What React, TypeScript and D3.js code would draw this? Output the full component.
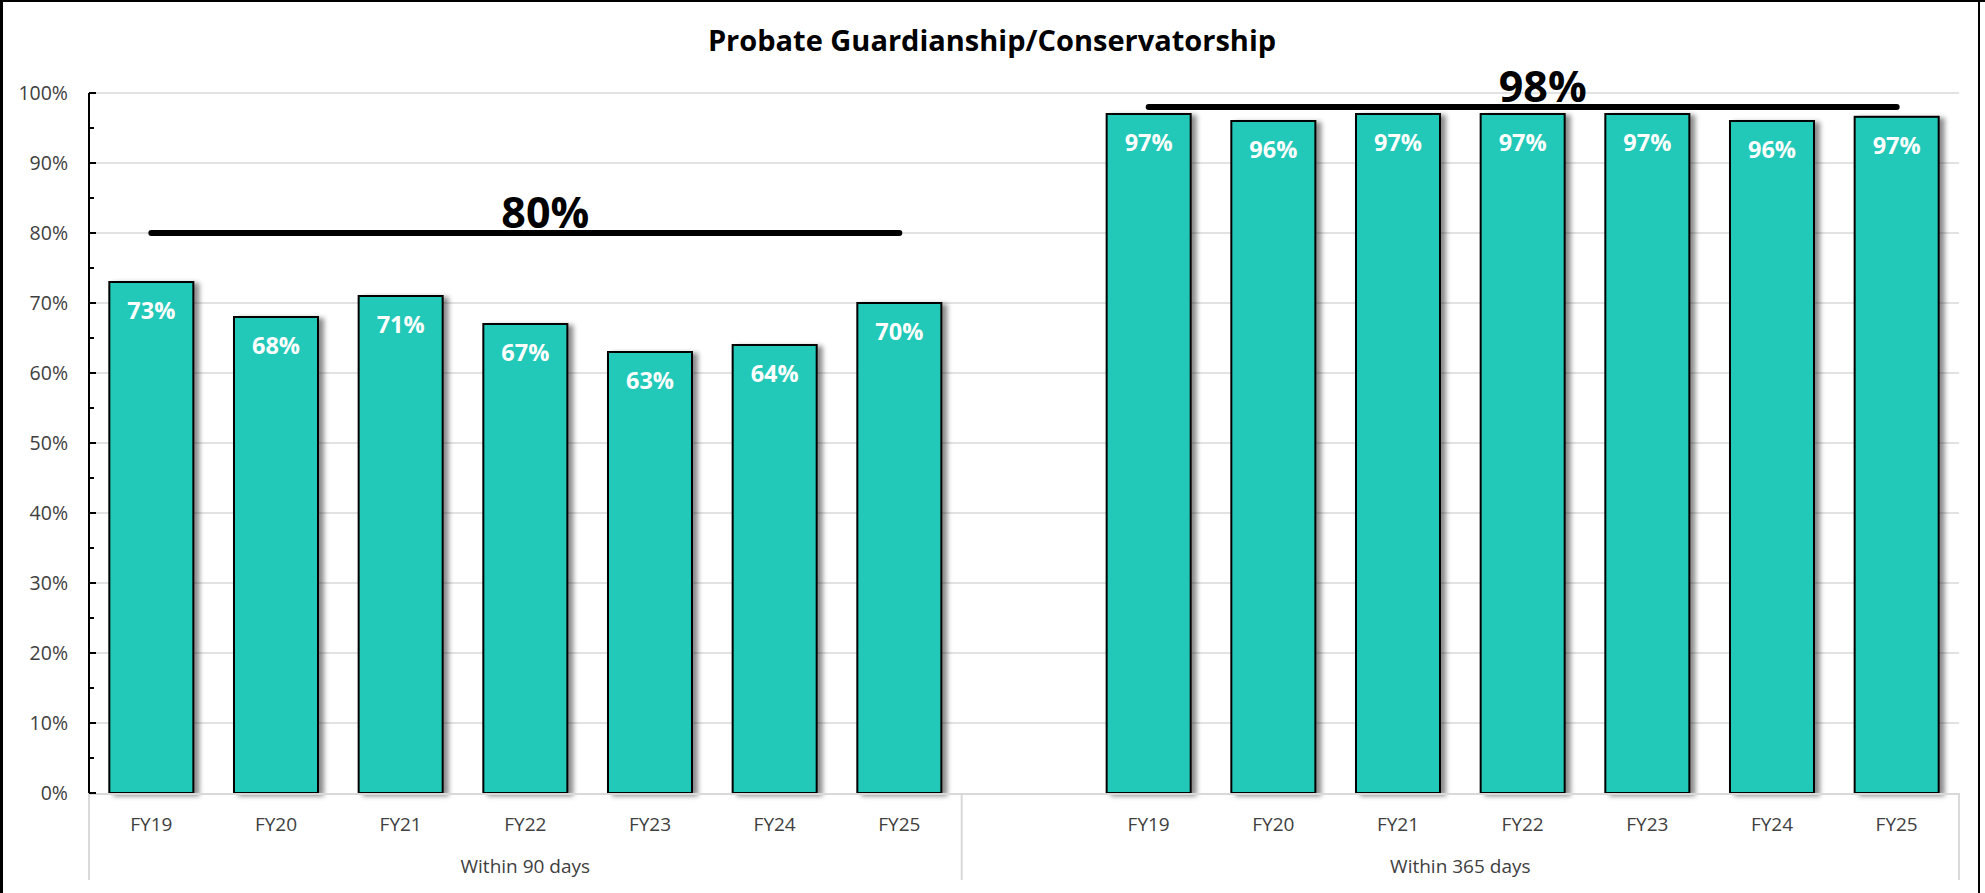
import React from "react";
import * as d3 from "d3";

const categories = ["FY19", "FY20", "FY21", "FY22", "FY23", "FY24", "FY25"];
const groups = ["Within 90 days", "Within 365 days"];
const within90 = [0.73, 0.68, 0.71, 0.67, 0.63, 0.64, 0.70];
const within365 = [0.97, 0.96, 0.97, 0.97, 0.97, 0.96, 0.966];
const targets = [0.8, 0.98];
const yTicks = [0, 0.1, 0.2, 0.3, 0.4, 0.5, 0.6, 0.7, 0.8, 0.9, 1.0];
const title = "Probate Guardianship/Conservatorship";

const W = 1985;
const H = 893;
const left = 89;
const right = 1959;
const top = 93;
const bottom = 793;
const FONT = "'Open Sans', 'Noto Sans', sans-serif";
const BAR = "#22C8B8";
const TXT = "#404040";

export default function App() {
  const series = [within90, within365];
  const slotKeys: string[] = [];
  categories.forEach((c) => slotKeys.push(`0-${c}`));
  slotKeys.push("1-gap");
  categories.forEach((c) => slotKeys.push(`1-${c}`));

  const x = d3
    .scaleBand<string>()
    .domain(slotKeys)
    .range([left, right])
    .paddingInner(0.326)
    .paddingOuter(0.163);
  const y = d3.scaleLinear().domain([0, 1]).range([bottom, top]);
  const step = x.step();
  const bw = x.bandwidth();
  const center = (k: string) => (x(k) as number) + bw / 2;

  const minorTicks = d3.range(0.05, 1, 0.1);
  const line = d3
    .line<[number, number]>()
    .x((d) => d[0])
    .y((d) => d[1]);

  const groupStart = [left, (x("1-gap") as number) - (step - bw) / 2];
  const groupEnd = [groupStart[1], right];

  return (
    <svg
      width={W}
      height={H}
      style={{ position: "absolute", left: 0, top: 0, background: "#fff" }}
    >
      <defs>
        <filter id="sh" x="-20%" y="-10%" width="150%" height="130%">
          <feDropShadow dx="5" dy="2" stdDeviation="2.5" floodColor="#000" floodOpacity="0.45" />
        </filter>
      </defs>
      <rect x={0} y={0} width={W} height={H} fill="#fff" />
      <line x1={1.5} y1={0} x2={1.5} y2={H} stroke="#000" strokeWidth={3} />
      <line x1={0} y1={1} x2={W} y2={1} stroke="#000" strokeWidth={2} />
      <line x1={1979} y1={0} x2={1979} y2={H} stroke="#000" strokeWidth={2} />

      <text x={992} y={51} textAnchor="middle" fontFamily={FONT} fontWeight={700} fontSize={29} fill="#000">
        {title}
      </text>

      {yTicks.slice(1).map((t) => (
        <line key={t} x1={left} x2={right} y1={y(t)} y2={y(t)} stroke="#d9d9d9" strokeWidth={1.5} />
      ))}

      {series.map((vals, gi) =>
        vals.map((v, i) => {
          const k = `${gi}-${categories[i]}`;
          return (
            <rect
              key={k}
              x={x(k)}
              y={y(v)}
              width={bw}
              height={bottom - y(v)}
              fill={BAR}
              stroke="#000"
              strokeWidth={2}
              filter="url(#sh)"
            />
          );
        })
      )}

      {series.map((vals, gi) =>
        vals.map((v, i) => {
          const k = `${gi}-${categories[i]}`;
          return (
            <text
              key={"l" + k}
              x={center(k)}
              y={y(v) + 37}
              textAnchor="middle"
              fontFamily={FONT}
              fontWeight={700}
              fontSize={23.5}
              fill="#fff"
            >
              {d3.format(".0%")(v)}
            </text>
          );
        })
      )}

      <line x1={left} x2={right} y1={bottom + 1} y2={bottom + 1} stroke="#d9d9d9" strokeWidth={2} />
      {[groupStart[0], groupStart[1], groupEnd[1]].map((gx, i) => (
        <line key={i} x1={gx} x2={gx} y1={bottom} y2={880} stroke="#d9d9d9" strokeWidth={2} />
      ))}

      <line x1={left} x2={left} y1={top} y2={bottom} stroke="#000" strokeWidth={2} />
      {yTicks.map((t) => (
        <line key={"t" + t} x1={left} x2={left + 7} y1={y(t)} y2={y(t)} stroke="#000" strokeWidth={2} />
      ))}
      {minorTicks.map((t) => (
        <line key={"m" + t} x1={left} x2={left + 5} y1={y(t)} y2={y(t)} stroke="#000" strokeWidth={2} />
      ))}
      {yTicks.map((t) => (
        <text
          key={"yl" + t}
          x={68}
          y={y(t) + 7}
          textAnchor="end"
          fontFamily={FONT}
          fontSize={19.5}
          fill={TXT}
        >
          {d3.format(".0%")(t)}
        </text>
      ))}

      {[0, 1].map((gi) =>
        categories.map((c) => {
          const k = `${gi}-${c}`;
          return (
            <text key={"c" + k} x={center(k)} y={831} textAnchor="middle" fontFamily={FONT} fontSize={19} fill={TXT}>
              {c}
            </text>
          );
        })
      )}
      {groups.map((g, gi) => (
        <text
          key={g}
          x={(groupStart[gi] + groupEnd[gi]) / 2}
          y={873}
          textAnchor="middle"
          fontFamily={FONT}
          fontSize={19}
          fill={TXT}
        >
          {g}
        </text>
      ))}

      {targets.map((t, gi) => {
        const pts: [number, number][] = categories.map((c) => [center(`${gi}-${c}`), y(t)]);
        const mid = (pts[0][0] + pts[pts.length - 1][0]) / 2;
        return (
          <g key={"tg" + gi}>
            <path d={line(pts) as string} stroke="#000" strokeWidth={6} strokeLinecap="round" fill="none" />
            <text
              x={mid + 20}
              y={y(t) - 5}
              textAnchor="middle"
              fontFamily={FONT}
              fontWeight={700}
              fontSize={43}
              fill="#000"
            >
              {d3.format(".0%")(t)}
            </text>
          </g>
        );
      })}
    </svg>
  );
}
